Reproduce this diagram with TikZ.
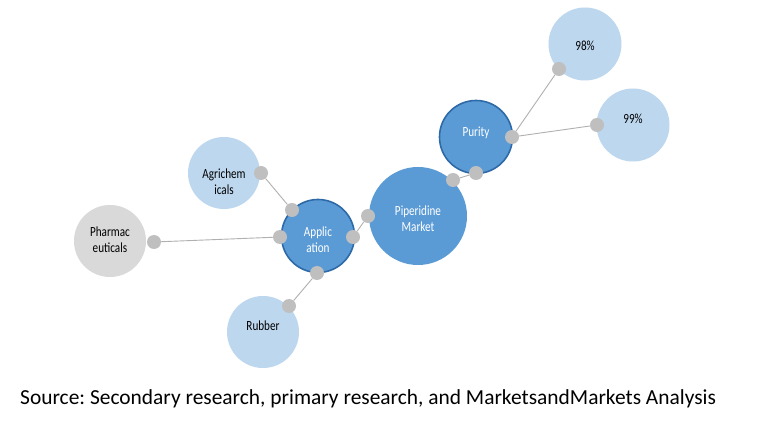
\documentclass[tikz,border=0pt]{standalone}
\usepackage{fontspec}
\setmainfont{Carlito}
\frenchspacing
\definecolor{midblue}{HTML}{5B9BD5}
\definecolor{darkrim}{HTML}{2F6AA8}
\definecolor{lightblue}{HTML}{BDD7EE}
\definecolor{lgray}{HTML}{D9D9D9}
\definecolor{dotgray}{HTML}{BFBFBF}
\definecolor{linegray}{HTML}{B0B0B0}
\newcommand\nrw[1]{\scalebox{0.8}[1]{#1}}
\begin{document}
\begin{tikzpicture}[x=1bp,y=-1bp,
  bubble/.style={circle,inner sep=0pt,minimum size=#1},
  mainb/.style={bubble=#1,fill=midblue},
  rimb/.style={bubble=#1,fill=midblue,draw=darkrim,line width=1.6bp},
  leafb/.style={bubble=#1,fill=lightblue},
  grayb/.style={bubble=#1,fill=lgray},
  dot/.style={circle,inner sep=0pt,minimum size=14bp,fill=dotgray},
  conn/.style={draw=linegray,line width=0.9bp},
  wtxt/.style={text=white,font=\fontsize{14}{16}\selectfont,align=center,inner sep=0pt},
  btxt/.style={text=black,font=\fontsize{14}{16}\selectfont,align=center,inner sep=0pt}]
\useasboundingbox (0,0) rectangle (770,433);
\fill[white] (0,0) rectangle (770,433);
% bubbles
\node[mainb=98bp] (pm) at (418,216) {};
\node[rimb=73bp] (pur) at (476,137) {};
\node[rimb=73bp] (app) at (318,236) {};
\node[leafb=73bp] (b98) at (585,44) {};
\node[leafb=73bp] (b99) at (633,125) {};
\node[leafb=72bp] (agr) at (224,173) {};
\node[grayb=72bp] (pha) at (110,241) {};
\node[leafb=72bp] (rub) at (263,332) {};
% texts
\node[wtxt] (pm-t) at (418,219) {\nrw{Piperidine}\\\nrw{Market}};
\node[wtxt] (pur-t) at (476,133) {\nrw{Purity}};
\node[wtxt] (app-t) at (318,240) {\nrw{Applic}\\\nrw{ation}};
\node[btxt] (b98-t) at (585,46) {\nrw{98\%}};
\node[btxt] (b99-t) at (633,119) {\nrw{99\%}};
\node[btxt] (agr-t) at (224,182) {\nrw{Agrichem}\\\nrw{icals}};
\node[btxt] (pha-t) at (110,240) {\nrw{Pharmac}\\\nrw{euticals}};
\node[btxt] (rub-t) at (263,326) {\nrw{Rubber}};
% dots
\node[dot] (d-pur-r) at (512,137) {};
\node[dot] (d-pur-b) at (476,173) {};
\node[dot] (d-pm-t) at (453,180) {};
\node[dot] (d-pm-l) at (368,216) {};
\node[dot] (d-98) at (559,69) {};
\node[dot] (d-99) at (597,125) {};
\node[dot] (d-app-r) at (353,237) {};
\node[dot] (d-app-t) at (292,210) {};
\node[dot] (d-app-l) at (280,237) {};
\node[dot] (d-app-b) at (317,273) {};
\node[dot] (d-agr) at (261,173) {};
\node[dot] (d-pha) at (154,242) {};
\node[dot] (d-rub) at (289,306) {};
% connectors
\draw[conn] (d-pur-r) -- (d-98);
\draw[conn] (d-pur-r) -- (d-99);
\draw[conn] (d-pur-b) -- (d-pm-t);
\draw[conn] (d-pm-l) -- (d-app-r);
\draw[conn] (d-app-t) -- (d-agr);
\draw[conn] (d-app-l) -- (d-pha);
\draw[conn] (d-app-b) -- (d-rub);
% source
\node[anchor=base west,inner sep=0pt,font=\fontsize{21.5}{26}\selectfont] (src) at (20,404) {Source: Secondary research, primary research, and MarketsandMarkets Analysis};
\end{tikzpicture}
\end{document}
